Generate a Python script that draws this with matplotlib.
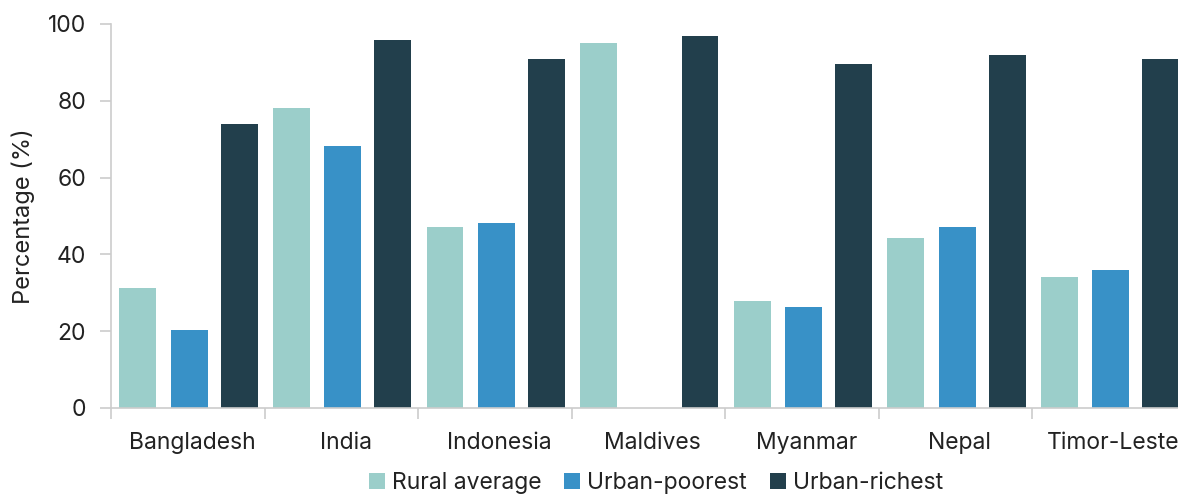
import numpy as np
import matplotlib.pyplot as plt
from matplotlib.patches import Patch

plt.rcParams['font.family'] = ['Inter', 'DejaVu Sans']

countries = ["Bangladesh", "India", "Indonesia", "Maldives", "Myanmar", "Nepal", "Timor-Leste"]
rural_average = [31.2, 78.0, 47.1, 95.0, 27.8, 44.3, 34.2]
urban_poorest = [20.2, 68.1, 48.2, np.nan, 26.2, 47.1, 36.0]
urban_richest = [73.9, 95.8, 91.0, 96.8, 89.7, 92.0, 91.0]

series = ["Rural average", "Urban-poorest", "Urban-richest"]
colors = ["#9BCECA", "#3891C7", "#223F4C"]

fig = plt.figure(figsize=(11.78, 4.96), dpi=100)
ax = fig.add_axes([111 / 1178, 88 / 496, 1075 / 1178, 384 / 496])

x = np.arange(len(countries))
width = 0.24
offsets = [-0.325, 0.01, 0.335]
for vals, off, col in zip([rural_average, urban_poorest, urban_richest], offsets, colors):
    ax.bar(x + off, vals, width, color=col, zorder=2)

ax.set_xlim(-0.5, len(countries) - 0.5)
ax.set_ylim(0, 100)
ax.set_yticks([0, 20, 40, 60, 80, 100])
# labels sit a few pixels right of the group centre in the original
ax.set_xticks(x + 0.027)
ax.set_xticklabels(countries)
ax.set_xticks(np.arange(len(countries) + 1) - 0.5, minor=True)
ax.tick_params(axis='x', which='major', length=0, pad=17, labelsize=16.5, labelcolor='#222222')
ax.tick_params(axis='x', which='minor', length=8, color='#cccccc', width=1.2)
ax.tick_params(axis='y', length=8, color='#cccccc', width=1.2, labelsize=16.5, labelcolor='#222222', pad=10)

for s in ['top', 'right']:
    ax.spines[s].set_visible(False)
for s in ['left', 'bottom']:
    ax.spines[s].set_color('#cccccc')
    ax.spines[s].set_linewidth(1.2)

ax.set_ylabel("Percentage (%)", fontsize=17, color='#222222', labelpad=9)

handles = [Patch(facecolor=c, edgecolor='none') for c in colors]
fig.legend(handles, series, loc='center', bbox_to_anchor=(656 / 1178, 13 / 496), ncol=3,
           frameon=False, fontsize=16.5, handlelength=0.7, handleheight=0.7,
           handletextpad=0.3, columnspacing=1.0, labelcolor='#222222')

fig.savefig("out.png", dpi=100)
